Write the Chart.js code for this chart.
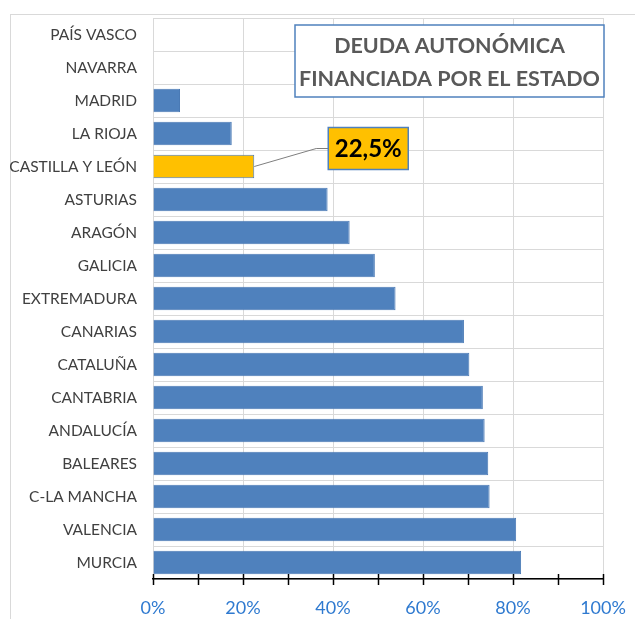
<!DOCTYPE html>
<html>
<head>
<meta charset="utf-8">
<script src="https://cdn.jsdelivr.net/npm/chart.js@4/dist/chart.umd.min.js"></script>
<style>
  html, body { margin: 0; padding: 0; background: #fff; }
  #wrap { position: relative; width: 635px; height: 619px; overflow: hidden; }
  #frame { position: absolute; left: 10px; top: 14px; width: 700px; height: 700px; border: 1px solid #d9d9d9; }
  canvas { position: absolute; left: 0; top: 0; }
</style>
</head>
<body>
<div id="wrap">
  <div id="frame"></div>
  <canvas id="chart" width="635" height="619"></canvas>
</div>
<script>
// regions, top to bottom as in the picture
const regions = [
  'PAÍS VASCO', 'NAVARRA', 'MADRID', 'LA RIOJA', 'CASTILLA Y LEÓN', 'ASTURIAS',
  'ARAGÓN', 'GALICIA', 'EXTREMADURA', 'CANARIAS', 'CATALUÑA', 'CANTABRIA',
  'ANDALUCÍA', 'BALEARES', 'C-LA MANCHA', 'VALENCIA', 'MURCIA'
];
// share of regional debt financed by the State (%)
const debtShare = [0, 0, 6.0, 17.5, 22.5, 38.8, 43.7, 49.3, 53.9, 69.1, 70.3, 73.3, 73.7, 74.5, 74.8, 80.7, 81.8];
const highlighted = 'CASTILLA Y LEÓN';
const titleLines = ['DEUDA AUTONÓMICA', 'FINANCIADA POR EL ESTADO'];

const FONT = 'Lato, "Liberation Sans", sans-serif';
const hiIndex = regions.indexOf(highlighted);
const barColors = regions.map((r, i) => i === hiIndex ? '#ffc000' : '#4f81bd');

// cross ticks on the x axis every 10%, title box and callout for highlighted bar
const decorations = {
  id: 'decorations',
  afterDraw(chart) {
    const ctx = chart.ctx;
    const x = chart.scales.x;
    const area = chart.chartArea;

    // axis tick marks crossing the axis line
    ctx.save();
    ctx.strokeStyle = '#000';
    ctx.lineWidth = 1.5;
    for (let v = x.min; v <= x.max; v += 10) {
      const px = Math.round(x.getPixelForValue(v)) + 0.5;
      ctx.beginPath();
      ctx.moveTo(px, area.bottom - 5);
      ctx.lineTo(px, area.bottom + 6);
      ctx.stroke();
    }
    ctx.restore();

    // title box
    ctx.save();
    const bx = area.left + 142, by = area.top + 7, bw = 309, bh = 72;
    ctx.fillStyle = '#fff';
    ctx.fillRect(bx, by, bw, bh);
    ctx.strokeStyle = '#4f81bd';
    ctx.lineWidth = 1.5;
    ctx.strokeRect(bx, by, bw, bh);
    ctx.fillStyle = '#595959';
    ctx.font = 'bold 21.5px ' + FONT;
    ctx.textAlign = 'center';
    ctx.textBaseline = 'middle';
    ctx.fillText(titleLines[0], bx + bw / 2, by + 21);
    ctx.fillText(titleLines[1], bx + bw / 2, by + 54);
    ctx.restore();

    // callout for highlighted bar
    const bar = chart.getDatasetMeta(0).data[hiIndex];
    ctx.save();
    ctx.strokeStyle = '#7f7f7f';
    ctx.lineWidth = 1;
    ctx.beginPath();
    ctx.moveTo(bar.x, bar.y);
    ctx.lineTo(bar.x + 62, bar.y - 18);
    ctx.lineTo(bar.x + 74, bar.y - 18);
    ctx.stroke();
    const cx = bar.x + 74, cy = bar.y - 39, cw = 80, ch = 42;
    ctx.fillStyle = '#ffc000';
    ctx.fillRect(cx, cy, cw, ch);
    ctx.strokeStyle = '#4f81bd';
    ctx.lineWidth = 1.5;
    ctx.strokeRect(cx, cy, cw, ch);
    ctx.fillStyle = '#000';
    ctx.font = 'bold 24px ' + FONT;
    ctx.textAlign = 'center';
    ctx.textBaseline = 'middle';
    ctx.fillText(debtShare[hiIndex].toFixed(1).replace('.', ',') + '%', cx + cw / 2, cy + ch / 2 + 1);
    ctx.restore();
  }
};

new Chart(document.getElementById('chart'), {
  type: 'bar',
  data: {
    labels: regions,
    datasets: [{
      data: debtShare,
      backgroundColor: barColors,
      borderColor: '#4a7ab5',
      borderWidth: 1,
      barPercentage: 0.71,
      categoryPercentage: 1.0
    }]
  },
  options: {
    indexAxis: 'y',
    responsive: false,
    animation: false,
    layout: { padding: { left: 0, top: 18, right: 32, bottom: 0 } },
    plugins: {
      legend: { display: false },
      tooltip: { enabled: false }
    },
    scales: {
      x: {
        min: 0,
        max: 100,
        ticks: {
          stepSize: 20,
          color: '#2f7ad0',
          font: { family: FONT, size: 18 },
          padding: 18,
          callback: v => v + '%'
        },
        grid: { color: '#d9d9d9', drawTicks: false },
        border: { color: '#000', width: 1.5 },
        afterFit(scale) {
          scale.height = 40;
          scale.paddingLeft = 0;
          scale.paddingRight = 0;
        }
      },
      y: {
        ticks: {
          color: '#404040',
          font: { family: FONT, size: 15.5 },
          padding: 16,
          autoSkip: false
        },
        grid: { color: '#d9d9d9', offset: true, drawTicks: false },
        border: { color: '#d9d9d9' },
        afterFit(scale) {
          scale.width = 153;
          scale.paddingTop = 0;
          scale.paddingBottom = 0;
        }
      }
    }
  },
  plugins: [decorations]
});
</script>
</body>
</html>
